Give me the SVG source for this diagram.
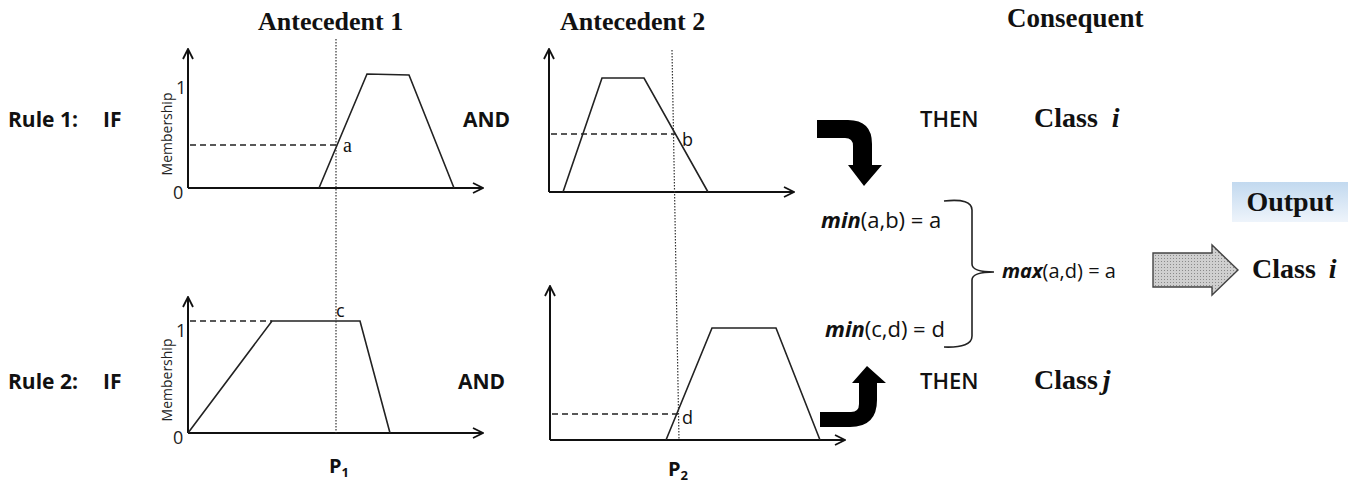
<svg xmlns="http://www.w3.org/2000/svg" width="1361" height="484" viewBox="0 0 1361 484">
<defs>
<style>
.ax{fill:none;stroke:#111;stroke-width:2}
.mf{fill:none;stroke:#222;stroke-width:1.6}
.dash{fill:none;stroke:#222;stroke-width:1.4;stroke-dasharray:6 4}
.dot{fill:none;stroke:#333;stroke-width:1.2;stroke-dasharray:1.5 1.5}
.hd{font-family:"Liberation Serif",serif;font-weight:bold;font-size:26px;fill:#111}
.rl{font-family:"Open Sans","Noto Sans",sans-serif;font-weight:bold;font-size:21px;fill:#111}
.th{font-family:"Open Sans","Noto Sans",sans-serif;font-weight:600;font-size:22px;fill:#111}
.cl{font-family:"Liberation Serif",serif;font-weight:bold;font-size:28px;fill:#111}
.mb{font-family:"Open Sans","Noto Sans",sans-serif;font-size:14px;fill:#222}
.tk{font-family:"Open Sans","Noto Sans",sans-serif;font-size:18px;fill:#222}
.pt{font-family:"Liberation Serif",serif;font-size:20px;fill:#111}
.pts{font-family:"Open Sans","Noto Sans",sans-serif;font-size:18px;fill:#111}
.fx{font-family:"Open Sans","Noto Sans",sans-serif;font-size:22px;fill:#111}
.fb{font-weight:bold;font-style:italic}
.pp{font-family:"Open Sans","Noto Sans",sans-serif;font-weight:bold;font-size:20px;fill:#111}
</style>
<marker id="ah" viewBox="0 0 12 12" refX="11" refY="6" markerWidth="12" markerHeight="12" markerUnits="userSpaceOnUse" orient="auto">
<path d="M1,1 L11,6 L1,11" fill="none" stroke="#111" stroke-width="1.8"/>
</marker>
<linearGradient id="og" x1="0" y1="0" x2="0" y2="1">
<stop offset="0" stop-color="#c2d9ef"/>
<stop offset="1" stop-color="#eef4fb"/>
</linearGradient>
<pattern id="dp" width="3" height="3" patternUnits="userSpaceOnUse">
<rect width="3" height="3" fill="#cfcfcf"/>
<rect width="1" height="1" fill="#8a8a8a"/>
</pattern>
</defs>
<rect width="1361" height="484" fill="#fff"/>

<g id="headers">
<text class="hd" x="258" y="30">Antecedent 1</text>
<text class="hd" x="560" y="30">Antecedent 2</text>
<text class="hd" x="1007" y="27" style="font-size:27px">Consequent</text>
</g>

<g id="rule1-labels">
<text class="rl" x="8" y="127">Rule 1:</text>
<text class="rl" x="103" y="127">IF</text>
<text class="rl" x="463" y="127">AND</text>
<text class="th" x="920" y="127">THEN</text>
<text class="cl" x="1034" y="127">Class <tspan font-style="italic" dx="7">i</tspan></text>
</g>

<g id="rule2-labels">
<text class="rl" x="8" y="389">Rule 2:</text>
<text class="rl" x="103" y="389">IF</text>
<text class="rl" x="458" y="389">AND</text>
<text class="th" x="920" y="389">THEN</text>
<text class="cl" x="1034" y="389">Class<tspan font-style="italic" dx="5">j</tspan></text>
</g>

<g id="chart-r1-a1">
<line class="ax" x1="188" y1="188" x2="188" y2="49" marker-end="url(#ah)"/>
<line class="ax" x1="188" y1="188" x2="483" y2="188" marker-end="url(#ah)"/>
<polyline class="mf" points="319,188 367,74 409,75 454,188"/>
<line class="dash" x1="190" y1="145" x2="336" y2="145"/>
<text class="pt" x="343" y="152">a</text>
<text class="tk" x="176" y="94">1</text>
<text class="tk" x="173" y="199">0</text>
<text class="mb" transform="translate(172,134) rotate(-90)" text-anchor="middle">Membership</text>
</g>

<g id="chart-r1-a2">
<line class="ax" x1="549" y1="192" x2="549" y2="49" marker-end="url(#ah)"/>
<line class="ax" x1="549" y1="192" x2="794" y2="192" marker-end="url(#ah)"/>
<polyline class="mf" points="563,192 602,78 644,78 708,192"/>
<line class="dash" x1="551" y1="134" x2="675" y2="134"/>
<text class="pts" x="682" y="146">b</text>
</g>

<g id="chart-r2-a1">
<line class="ax" x1="188" y1="433" x2="188" y2="297" marker-end="url(#ah)"/>
<line class="ax" x1="188" y1="433" x2="483" y2="433" marker-end="url(#ah)"/>
<polyline class="mf" points="188,433 272,321 360,321 390,433"/>
<line class="dash" x1="190" y1="321" x2="272" y2="321"/>
<text class="pts" x="336" y="317">c</text>
<text class="tk" x="176" y="337">1</text>
<text class="tk" x="173" y="444">0</text>
<text class="mb" transform="translate(172,380) rotate(-90)" text-anchor="middle">Membership</text>
<text class="pp" x="329" y="473">P<tspan font-size="13" dy="4">1</tspan></text>
</g>

<g id="chart-r2-a2">
<line class="ax" x1="550" y1="440" x2="550" y2="286" marker-end="url(#ah)"/>
<line class="ax" x1="550" y1="440" x2="845" y2="440" marker-end="url(#ah)"/>
<polyline class="mf" points="666,440 712,328 776,328 820,440"/>
<line class="dash" x1="552" y1="414" x2="678" y2="414"/>
<text class="pts" x="682" y="424">d</text>
<text class="pp" x="668" y="476">P<tspan font-size="13" dy="4">2</tspan></text>
</g>

<g id="cut-lines">
<line class="dot" x1="336" y1="39" x2="336" y2="433"/>
<line class="dot" x1="672" y1="50" x2="679" y2="440"/>
</g>

<g id="min-max">
<text class="fx" x="821" y="228"><tspan class="fb">min</tspan>(a,b) = a</text>
<text class="fx" x="825" y="337"><tspan class="fb">min</tspan>(c,d) = d</text>
<text class="fx" x="1002" y="278" style="font-size:20px"><tspan class="fb">max</tspan>(a,d) = a</text>
<path d="M944,201 Q972,198 972,210 L972,264 Q972,272 994,272 Q972,272 972,280 L972,336 Q972,348 944,347" fill="none" stroke="#222" stroke-width="1.6"/>
</g>

<g id="connectors">
<path d="M817,120 L848,120 Q872,120 872,144 L872,165 L882,165 L864,186 L848,165 L853,165 L853,146 Q853,138 845,138 L817,138 Z" fill="#000"/>
<path d="M820,427 L850,427 Q877,427 877,400 L877,383 L886,383 L867,366 L852,383 L859,383 L859,404 Q859,412 851,412 L820,412 Z" fill="#000"/>
<path d="M1153,253 L1212,253 L1212,245 L1238,270 L1212,295 L1212,287 L1153,287 Z" fill="url(#dp)" stroke="#444" stroke-width="1.4"/>
</g>

<g id="output">
<rect x="1232" y="182" width="116" height="40" fill="url(#og)"/>
<text class="cl" x="1290" y="211" text-anchor="middle">Output</text>
<text class="cl" x="1252" y="278">Class <tspan font-style="italic" dx="6">i</tspan></text>
</g>
</svg>
